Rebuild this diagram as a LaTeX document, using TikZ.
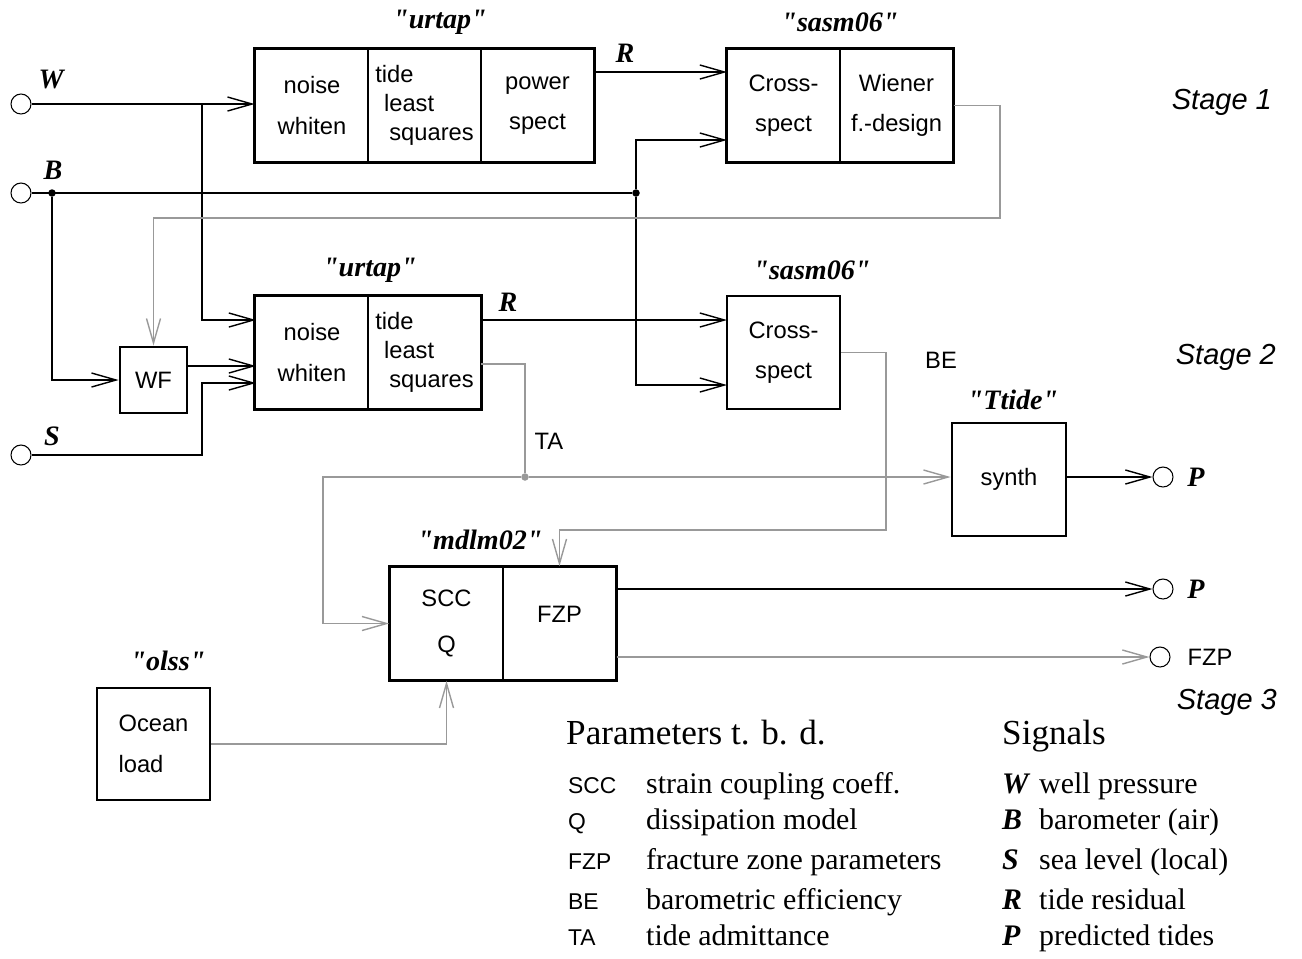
\documentclass[tikz,border=0pt]{standalone}
\usepackage{fontspec}
\setmainfont{Liberation Serif}
\setsansfont{Liberation Sans}
\newfontfamily\prgfont{Liberation Serif}[Ligatures=TeXOff]
\usetikzlibrary{arrows.meta}
\tikzset{>/.tip={Straight Barb[length=14pt,width=8pt]}}
\newcommand{\prg}[1]{{\prgfont\bfseries\itshape "#1"}}
\newcommand{\sgl}[1]{\textbf{\textit{#1}}}

\begin{document}
\begin{tikzpicture}[x=0.02cm, y=-0.02cm,
  cell/.style={draw, line width=1pt, inner sep=0pt, minimum width=2.26cm, minimum height=2.26cm, align=center, font=\sffamily\fontsize{13.5}{23}\selectfont},
  box/.style={cell, line width=1.6pt},
  frame/.style={line width=1.6pt},
  wire/.style={line width=0.8pt},
  gwire/.style={line width=0.8pt, draw=gray!80},
  port/.style={draw, circle, line width=0.6pt, inner sep=0pt, minimum size=0.4cm},
  jdot/.style={circle, fill, inner sep=0pt, minimum size=0.15cm},
  prog/.style={font=\fontsize{16}{18}\selectfont},
  siglabel/.style={font=\fontsize{16}{18}\selectfont},
  plabel/.style={font=\sffamily\fontsize{13.5}{16}\selectfont},
  stage/.style={anchor=east, font=\sffamily\itshape\fontsize{16.5}{20}\selectfont},
  abbr/.style={anchor=mid west, font=\sffamily\fontsize{13}{16}\selectfont},
  desc/.style={anchor=mid west, font=\fontsize{17}{20}\selectfont},
  head/.style={anchor=mid west, font=\fontsize{20}{24}\selectfont}]
\useasboundingbox (0,0) rectangle (1302,958);

% stage 1
\node[prog] at (440,22) {\prg{urtap}};
\node[cell] (u1a) at (312,105.5) {noise\\whiten};
\node[cell, align=left] (u1b) at (424.5,105.5) {tide\\[-6.5pt]\hspace*{5pt}least\\[-6.5pt]\hspace*{8pt}squares};
\node[cell] (u1c) at (537.5,105.5) {power\\spect};
\draw[frame] (u1a.north west) rectangle (u1c.south east);

\node[prog] at (840,22) {\prg{sasm06}};
\node[cell] (s1a) at (783.5,105.5) {Cross-\\spect};
\node[cell] (s1b) at (896.5,105.5) {Wiener\\f.-design};
\draw[frame] (s1a.north west) rectangle (s1b.south east);

% stage 2
\node[prog] at (370,270) {\prg{urtap}};
\node[cell] (u2a) at (312,352.5) {noise\\whiten};
\node[cell, align=left] (u2b) at (424.5,352.5) {tide\\[-6.5pt]\hspace*{5pt}least\\[-6.5pt]\hspace*{8pt}squares};
\draw[frame] (u2a.north west) rectangle (u2b.south east);

\node[prog] at (812,270) {\prg{sasm06}};
\node[box] (s2) at (783.5,352.5) {Cross-\\spect};

\node[box, minimum width=1.34cm, minimum height=1.32cm] (wf) at (153.5,380) {WF};

\node[prog] at (1013,400) {\prg{Ttide}};
\node[box, minimum width=2.28cm] (synth) at (1009,479.5) {synth};

% stage 3
\node[prog] at (480,540) {\prg{mdlm02}};
\node[cell] (m1) at (446.5,623.5) {SCC\\[3pt]Q};
\node[cell] (m2) at (559.5,623.5) {FZP\\[-12pt]};
\draw[frame] (m1.north west) rectangle (m2.south east);

\node[prog] at (168,661) {\prg{olss}};
\node[box, align=left, minimum height=2.24cm] (olss) at (153.5,744) {Ocean\\load};

% signal ports
\node[port] (w) at (21,104) {};
\node[siglabel] at (52,80) {\sgl{W}};
\node[port] (b) at (21,193) {};
\node[siglabel] at (53,170) {\sgl{B}};
\node[port] (s) at (21,455) {};
\node[siglabel] at (52,436) {\sgl{S}};
\node[port] (p1) at (1163,477) {};
\node[siglabel] at (1196,477) {\sgl{P}};
\node[port] (p2) at (1163,589) {};
\node[siglabel] at (1196,589) {\sgl{P}};
\node[port] (fzp) at (1160,657) {};
\node[plabel] at (1210,657) {FZP};

\node[jdot] (bd1) at (52,193) {};
\node[jdot] (bd2) at (636,193) {};
\node[jdot, fill=gray!80] (ta) at (525,477) {};

\coordinate (wj) at (202,104);
\coordinate (sk) at (202,383);
\coordinate (u2in1) at (256,320);
\coordinate (u2in2) at (256,366);
\coordinate (u2in3) at (256,383);
\coordinate (s1in1) at (727,72);
\coordinate (s1in2) at (727,140);
\coordinate (s2in1) at (727,320);
\coordinate (s2in2) at (727,385);
\coordinate (u2out) at (481,364);
\coordinate (fb) at (1000,218);
\coordinate (tacorner) at (323,477);
\coordinate (be) at (886,530);

\node[siglabel] at (625,53) {\sgl{R}};
\node[siglabel] at (508,302) {\sgl{R}};
\node[plabel] at (549,441) {TA};
\node[plabel] at (941,360) {BE};

% black connectors
\draw[wire,->] (w) -- (w -| u1a.west);
\draw[wire,->] (wj) |- (u2in1);
\draw[wire] (b) -- (bd2);
\draw[wire,->] (bd1) |- (wf.west);
\draw[wire,->] (bd2) |- (s1in2);
\draw[wire,->] (bd2) |- (s2in2);
\draw[wire,->] (u1c.east |- s1in1) -- (s1in1);
\draw[wire,->] (wf.east |- u2in2) -- (u2in2);
\draw[wire,->] (s) -| (sk) -- (u2in3);
\draw[wire,->] (u2b.east |- s2in1) -- (s2in1);
\draw[wire,->] (synth.east |- p1) -- (p1);
\draw[wire,->] (m2.east |- p2) -- (p2);

% gray connectors
\draw[gwire,->] (s1b.east) -| (fb) -| (wf.north);
\draw[gwire] (u2out) -| (ta);
\draw[gwire,->] (ta) -- (ta -| synth.west);
\draw[gwire,->] (ta) -- (tacorner) |- (m1.west);
\draw[gwire,->] (s2.east) -| (be) -| (m2.north);
\draw[gwire,->] (m2.east |- fzp) -- (fzp);
\draw[gwire,->] (olss) -| (m1.south);

\node[stage] at (1278,102) {Stage 1};
\node[stage] at (1282,357) {Stage 2};
\node[stage] at (1283,702) {Stage 3};

% legend
\node[head] at (560,740) {Parameters t. b. d.};
\node[abbr] at (562,789) {SCC};
\node[desc] at (640,789) {strain coupling coeff.};
\node[abbr] at (562,825) {Q};
\node[desc] at (640,825) {dissipation model};
\node[abbr] at (562,865) {FZP};
\node[desc] at (640,865) {fracture zone parameters};
\node[abbr] at (562,905) {BE};
\node[desc] at (640,905) {barometric efficiency};
\node[abbr] at (562,941) {TA};
\node[desc] at (640,941) {tide admittance};

\node[head] at (996,740) {Signals};
\node[desc] at (996,789) {\sgl{W}};
\node[desc] at (1033,789) {well pressure};
\node[desc] at (996,825) {\sgl{B}};
\node[desc] at (1033,825) {barometer (air)};
\node[desc] at (996,865) {\sgl{S}};
\node[desc] at (1033,865) {sea level (local)};
\node[desc] at (996,905) {\sgl{R}};
\node[desc] at (1033,905) {tide residual};
\node[desc] at (996,941) {\sgl{P}};
\node[desc] at (1033,941) {predicted tides};
\end{tikzpicture}
\end{document}
